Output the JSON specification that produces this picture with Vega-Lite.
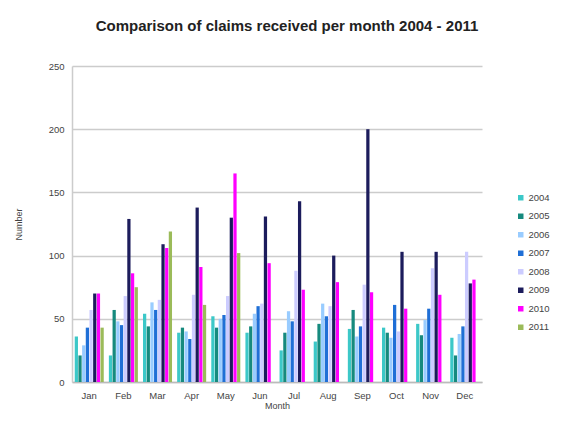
{
  "$schema": "https://vega.github.io/schema/vega-lite/v6.json",
  "autosize": "none",
  "width": 410,
  "height": 316,
  "padding": {"left": 72, "top": 66, "right": 92, "bottom": 45},
  "background": "white",
  "title": {"text": "Comparison of claims received per month 2004 - 2011", "font": "Liberation Sans", "fontSize": 15, "fontWeight": "bold", "color": "#222222", "anchor": "middle", "offset": 27, "dx": 10},
  "data": {"values": [
    {"month":"Jan","year":"2004","value":36},{"month":"Jan","year":"2005","value":21},{"month":"Jan","year":"2006","value":29},{"month":"Jan","year":"2007","value":43},{"month":"Jan","year":"2008","value":57},{"month":"Jan","year":"2009","value":70},{"month":"Jan","year":"2010","value":70},{"month":"Jan","year":"2011","value":43},
    {"month":"Feb","year":"2004","value":21},{"month":"Feb","year":"2005","value":57},{"month":"Feb","year":"2006","value":48},{"month":"Feb","year":"2007","value":45},{"month":"Feb","year":"2008","value":68},{"month":"Feb","year":"2009","value":129},{"month":"Feb","year":"2010","value":86},{"month":"Feb","year":"2011","value":75},
    {"month":"Mar","year":"2004","value":54},{"month":"Mar","year":"2005","value":44},{"month":"Mar","year":"2006","value":63},{"month":"Mar","year":"2007","value":57},{"month":"Mar","year":"2008","value":65},{"month":"Mar","year":"2009","value":109},{"month":"Mar","year":"2010","value":106},{"month":"Mar","year":"2011","value":119},
    {"month":"Apr","year":"2004","value":39},{"month":"Apr","year":"2005","value":43},{"month":"Apr","year":"2006","value":40},{"month":"Apr","year":"2007","value":34},{"month":"Apr","year":"2008","value":69},{"month":"Apr","year":"2009","value":138},{"month":"Apr","year":"2010","value":91},{"month":"Apr","year":"2011","value":61},
    {"month":"May","year":"2004","value":52},{"month":"May","year":"2005","value":43},{"month":"May","year":"2006","value":50},{"month":"May","year":"2007","value":53},{"month":"May","year":"2008","value":68},{"month":"May","year":"2009","value":130},{"month":"May","year":"2010","value":165},{"month":"May","year":"2011","value":102},
    {"month":"Jun","year":"2004","value":39},{"month":"Jun","year":"2005","value":44},{"month":"Jun","year":"2006","value":54},{"month":"Jun","year":"2007","value":60},{"month":"Jun","year":"2008","value":62},{"month":"Jun","year":"2009","value":131},{"month":"Jun","year":"2010","value":94},
    {"month":"Jul","year":"2004","value":25},{"month":"Jul","year":"2005","value":39},{"month":"Jul","year":"2006","value":56},{"month":"Jul","year":"2007","value":48},{"month":"Jul","year":"2008","value":88},{"month":"Jul","year":"2009","value":143},{"month":"Jul","year":"2010","value":73},
    {"month":"Aug","year":"2004","value":32},{"month":"Aug","year":"2005","value":46},{"month":"Aug","year":"2006","value":62},{"month":"Aug","year":"2007","value":52},{"month":"Aug","year":"2008","value":60},{"month":"Aug","year":"2009","value":100},{"month":"Aug","year":"2010","value":79},
    {"month":"Sep","year":"2004","value":42},{"month":"Sep","year":"2005","value":57},{"month":"Sep","year":"2006","value":36},{"month":"Sep","year":"2007","value":44},{"month":"Sep","year":"2008","value":77},{"month":"Sep","year":"2009","value":200},{"month":"Sep","year":"2010","value":71},
    {"month":"Oct","year":"2004","value":43},{"month":"Oct","year":"2005","value":39},{"month":"Oct","year":"2006","value":35},{"month":"Oct","year":"2007","value":61},{"month":"Oct","year":"2008","value":40},{"month":"Oct","year":"2009","value":103},{"month":"Oct","year":"2010","value":58},
    {"month":"Nov","year":"2004","value":46},{"month":"Nov","year":"2005","value":37},{"month":"Nov","year":"2006","value":49},{"month":"Nov","year":"2007","value":58},{"month":"Nov","year":"2008","value":90},{"month":"Nov","year":"2009","value":103},{"month":"Nov","year":"2010","value":69},
    {"month":"Dec","year":"2004","value":35},{"month":"Dec","year":"2005","value":21},{"month":"Dec","year":"2006","value":38},{"month":"Dec","year":"2007","value":44},{"month":"Dec","year":"2008","value":103},{"month":"Dec","year":"2009","value":78},{"month":"Dec","year":"2010","value":81}
  ]},
  "mark": {"type": "bar"},
  "encoding": {
    "x": {"field": "month", "type": "nominal", "sort": ["Jan","Feb","Mar","Apr","May","Jun","Jul","Aug","Sep","Oct","Nov","Dec"],
      "scale": {"paddingInner": 0.15, "paddingOuter": 0.08},
      "axis": {"title": "Month", "labelAngle": 0, "labelFont": "Liberation Sans", "labelFontSize": 9.5, "labelColor": "#444444", "titleFont": "Liberation Sans", "titleFontSize": 9, "titleFontWeight": "normal", "titleColor": "#444444", "titlePadding": 2, "labelPadding": 8, "ticks": false, "domainColor": "#bbbbbb", "domainWidth": 1.5}},
    "xOffset": {"field": "year", "type": "nominal", "scale": {"paddingInner": 0.12}},
    "y": {"field": "value", "type": "quantitative", "scale": {"domain": [0, 250]},
      "axis": {"title": "Number", "values": [0,50,100,150,200,250], "labelFont": "Liberation Sans", "labelFontSize": 9.5, "labelColor": "#444444", "titleFont": "Liberation Sans", "titleFontSize": 9, "titleFontWeight": "normal", "titleColor": "#444444", "titlePadding": 25, "labelPadding": 8, "ticks": false, "gridColor": "#cccccc", "gridWidth": 1.5, "domainColor": "#cccccc", "domainWidth": 1.5}},
    "color": {"field": "year", "type": "nominal",
      "scale": {"domain": ["2004","2005","2006","2007","2008","2009","2010","2011"], "range": ["#3cc8c8","#168a7e","#99ccff","#1f6fd6","#ccccff","#1c1c5c","#ff00ff","#9bbb59"]},
      "legend": {"title": null, "orient": "none", "legendX": 444, "legendY": 127, "symbolType": "square", "symbolSize": 30, "symbolStrokeWidth": 0, "labelFont": "Liberation Sans", "labelFontSize": 9.5, "labelColor": "#444444", "rowPadding": 7.5, "labelOffset": 3}}
  },
  "config": {"view": {"stroke": null}}
}
